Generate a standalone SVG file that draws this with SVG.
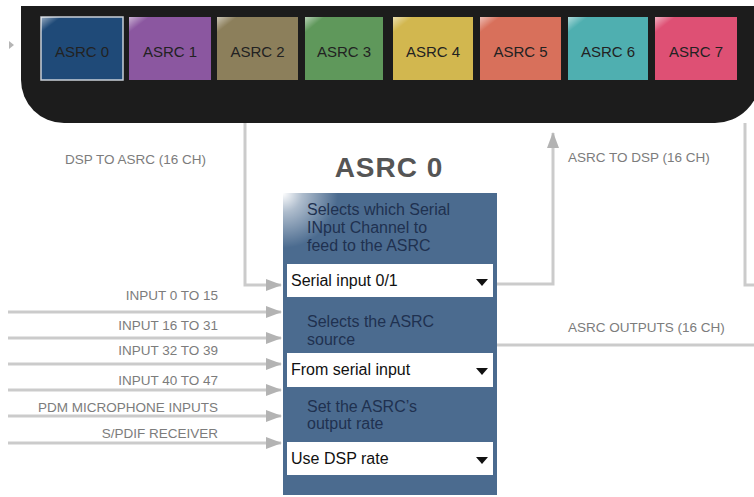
<svg xmlns="http://www.w3.org/2000/svg" width="754" height="497" viewBox="0 0 754 497">
<defs>
<style>
text{font-family:"Liberation Sans",Arial,sans-serif}
.lbl{font-size:13.5px;fill:#7c7c7c}
.inl{font-size:13.5px;fill:#7c7c7c;text-anchor:end}
.tile text{font-size:15px;fill:#222;text-anchor:middle}
.desc{font-size:16px;fill:#1f3150}
.dd{font-size:16px;fill:#111}
.conn{fill:none;stroke:#cbcbcb;stroke-width:3}
.ddbox{fill:#ffffff}
.tri{fill:#111}
</style>
<marker id="ah" viewBox="0 0 16 12" refX="15" refY="6" markerWidth="16" markerHeight="12" markerUnits="userSpaceOnUse" orient="auto"><path d="M0,0 L16,6 L0,12 z" fill="#b3b3b3"/></marker>
<linearGradient id="gloss" x1="0" y1="0" x2="0.5" y2="0.5">
<stop offset="0" stop-color="#ffffff" stop-opacity="0.55"/>
<stop offset="0.25" stop-color="#ffffff" stop-opacity="0"/>
</linearGradient>
<radialGradient id="glow" cx="283" cy="193" r="55" gradientUnits="userSpaceOnUse">
<stop offset="0" stop-color="#ffffff" stop-opacity="1"/>
<stop offset="0.35" stop-color="#ffffff" stop-opacity="0.55"/>
<stop offset="1" stop-color="#ffffff" stop-opacity="0"/>
</radialGradient>
</defs>
<rect width="754" height="497" fill="#ffffff"/>

<g id="panel">
<path d="M21,6 H760 V78 A45,45 0 0 1 715,123 H64 A43,43 0 0 1 21,80 Z" fill="#1c1c1c"/>
<path d="M9,41 L14,45 L9,49 Z" fill="#b5b5b5"/>
</g>

<g id="tile0" class="tile"><rect x="41" y="17" width="82" height="63" fill="#1f4a78" stroke="#c9d0d8" stroke-width="1.5"/><rect x="41" y="17" width="82" height="63" fill="url(#gloss)"/><text x="82" y="57">ASRC 0</text></g>
<g id="tile1" class="tile"><rect x="129" y="17" width="82" height="63" fill="#8b57a0"/><rect x="129" y="17" width="82" height="63" fill="url(#gloss)"/><text x="170" y="57">ASRC 1</text></g>
<g id="tile2" class="tile"><rect x="217" y="17" width="81" height="63" fill="#8c7f5b"/><rect x="217" y="17" width="81" height="63" fill="url(#gloss)"/><text x="257.5" y="57">ASRC 2</text></g>
<g id="tile3" class="tile"><rect x="305" y="17" width="78" height="63" fill="#5f985b"/><rect x="305" y="17" width="78" height="63" fill="url(#gloss)"/><text x="344" y="57">ASRC 3</text></g>
<g id="tile4" class="tile"><rect x="393" y="17" width="80" height="63" fill="#d2b74f"/><rect x="393" y="17" width="80" height="63" fill="url(#gloss)"/><text x="433" y="57">ASRC 4</text></g>
<g id="tile5" class="tile"><rect x="480" y="17" width="81" height="63" fill="#d8705b"/><rect x="480" y="17" width="81" height="63" fill="url(#gloss)"/><text x="520.5" y="57">ASRC 5</text></g>
<g id="tile6" class="tile"><rect x="568" y="17" width="80" height="63" fill="#4fafb0"/><rect x="568" y="17" width="80" height="63" fill="url(#gloss)"/><text x="608" y="57">ASRC 6</text></g>
<g id="tile7" class="tile"><rect x="655" y="17" width="82" height="63" fill="#de5074"/><rect x="655" y="17" width="82" height="63" fill="url(#gloss)"/><text x="696" y="57">ASRC 7</text></g>

<g id="connectors">
<path class="conn" d="M245,123 V285 H281" marker-end="url(#ah)"/>
<path class="conn" d="M8,312 H281" marker-end="url(#ah)"/>
<path class="conn" d="M8,338 H281" marker-end="url(#ah)"/>
<path class="conn" d="M8,364 H281" marker-end="url(#ah)"/>
<path class="conn" d="M8,390 H281" marker-end="url(#ah)"/>
<path class="conn" d="M8,416 H281" marker-end="url(#ah)"/>
<path class="conn" d="M8,443 H281" marker-end="url(#ah)"/>
<path class="conn" d="M497,284 H553 V133" marker-end="url(#ah)"/>
<path class="conn" d="M745,123 V285 H754"/>
<path class="conn" d="M497,345 H754"/>
</g>

<g id="labels">
<text class="lbl" x="65" y="164">DSP TO ASRC (16 CH)</text>
<text class="lbl" x="568" y="162">ASRC TO DSP (16 CH)</text>
<text class="lbl" x="568" y="332">ASRC OUTPUTS (16 CH)</text>
<text class="inl" x="218" y="300">INPUT 0 TO 15</text>
<text class="inl" x="218" y="330">INPUT 16 TO 31</text>
<text class="inl" x="218" y="355">INPUT 32 TO 39</text>
<text class="inl" x="218" y="385">INPUT 40 TO 47</text>
<text class="inl" x="218" y="412">PDM MICROPHONE INPUTS</text>
<text class="inl" x="218" y="438">S/PDIF RECEIVER</text>
</g>

<g id="asrc0">
<text x="389" y="177" text-anchor="middle" font-size="28" font-weight="bold" fill="#555555" letter-spacing="1">ASRC 0</text>
<rect x="283" y="193" width="214" height="302" fill="#4b6b8f"/>
<rect x="283" y="193" width="214" height="302" fill="url(#glow)"/>
<text class="desc" x="307" y="215">Selects which Serial</text>
<text class="desc" x="307" y="233">INput Channel to</text>
<text class="desc" x="307" y="251">feed to the ASRC</text>
<rect class="ddbox" x="287" y="264" width="206" height="33"/>
<text class="dd" x="291" y="286">Serial input 0/1</text>
<path class="tri" d="M476,279 H488 L482,286 Z"/>
<text class="desc" x="307" y="327">Selects the ASRC</text>
<text class="desc" x="307" y="345">source</text>
<rect class="ddbox" x="287" y="353" width="206" height="34"/>
<text class="dd" x="291" y="375">From serial input</text>
<path class="tri" d="M476,368 H488 L482,375 Z"/>
<text class="desc" x="307" y="412">Set the ASRC’s</text>
<text class="desc" x="307" y="429">output rate</text>
<rect class="ddbox" x="287" y="442" width="206" height="33"/>
<text class="dd" x="291" y="464">Use DSP rate</text>
<path class="tri" d="M476,457 H488 L482,464 Z"/>
</g>
</svg>
